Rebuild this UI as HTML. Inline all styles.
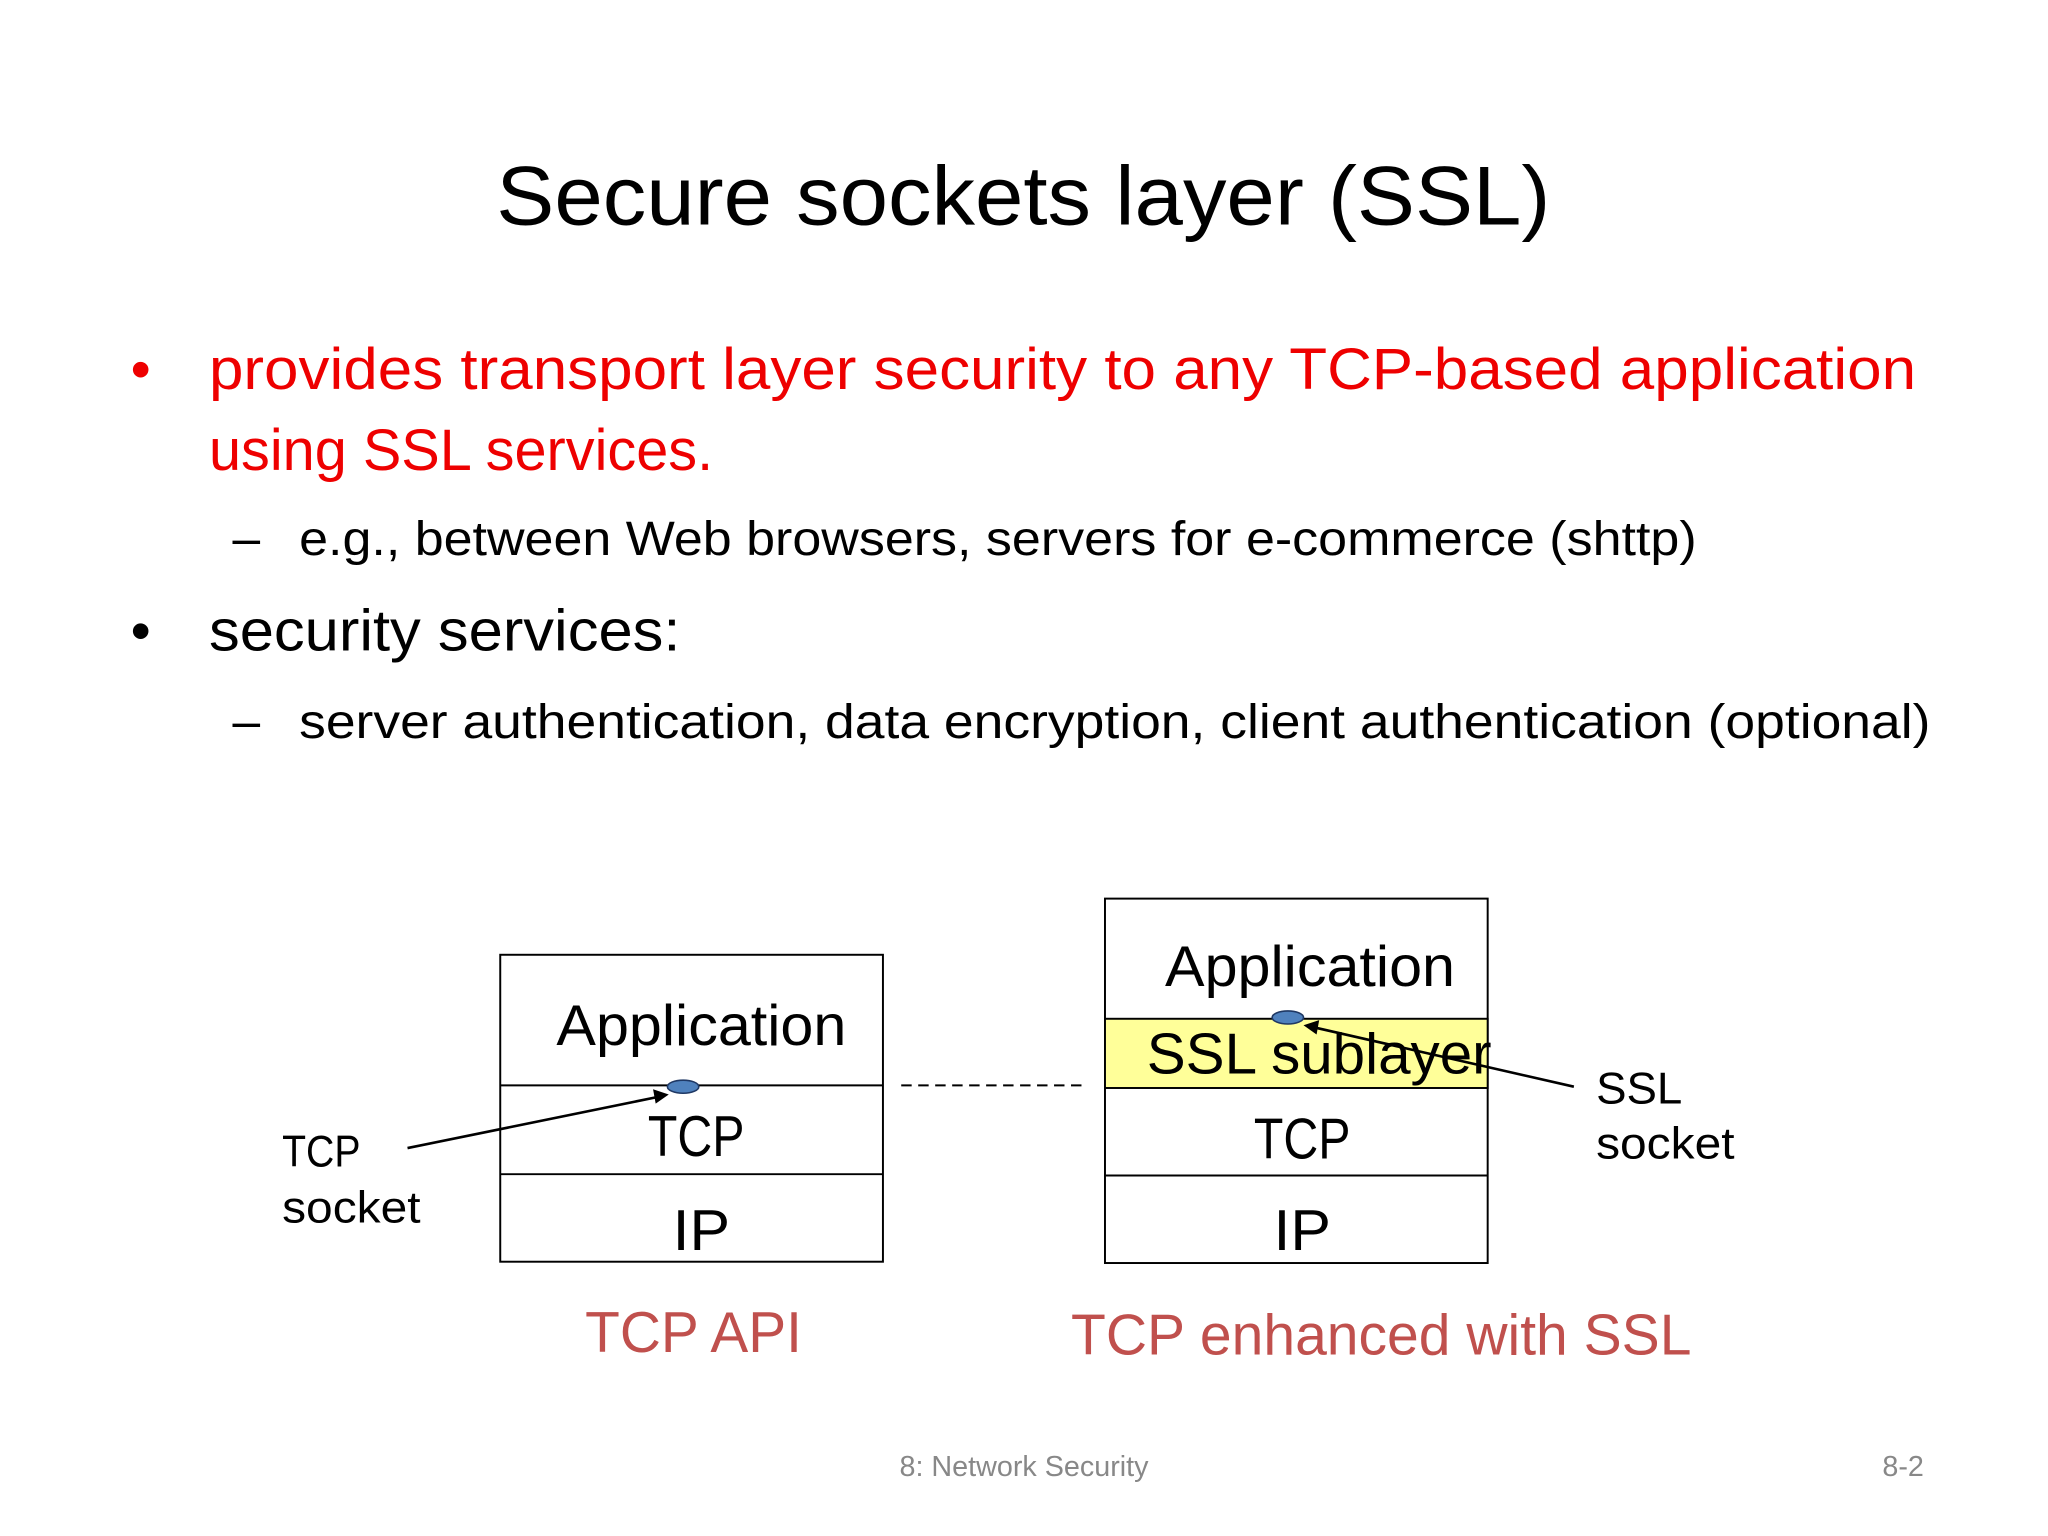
<!DOCTYPE html>
<html><head><meta charset="utf-8"><style>
html,body{margin:0;padding:0;background:#fff;width:2048px;height:1536px;overflow:hidden}
svg{display:block}
text{font-family:"Liberation Sans",sans-serif}
</style></head><body>
<svg width="2048" height="1536" viewBox="0 0 1568 1176" xmlns="http://www.w3.org/2000/svg">
<rect width="1568" height="1176" fill="#fff"/>
<text x="380" y="172" font-size="64" textLength="807" lengthAdjust="spacingAndGlyphs" fill="#000">Secure sockets layer (SSL)</text>
<text x="100" y="298" font-size="44" fill="#e00">•</text>
<text x="160" y="298" font-size="45" fill="#e00" textLength="1307" lengthAdjust="spacingAndGlyphs">provides transport layer security to any TCP-based application</text>
<text x="160" y="360" font-size="45" fill="#e00" textLength="386" lengthAdjust="spacingAndGlyphs">using SSL services.</text>
<text x="178" y="425" font-size="38" fill="#000">–</text>
<text x="229" y="425" font-size="37" fill="#000" textLength="1070" lengthAdjust="spacingAndGlyphs">e.g., between Web browsers, servers for e-commerce (shttp)</text>
<text x="100" y="498" font-size="44" fill="#000">•</text>
<text x="160" y="498" font-size="45" fill="#000" textLength="361" lengthAdjust="spacingAndGlyphs">security services:</text>
<text x="178" y="565" font-size="38" fill="#000">–</text>
<text x="229" y="565" font-size="37" fill="#000" textLength="1249" lengthAdjust="spacingAndGlyphs">server authentication, data encryption, client authentication (optional)</text>

<g stroke="#000" stroke-width="1.5" fill="none">
<rect x="383" y="731" width="293" height="235" fill="#fff"/>
<line x1="383" y1="831" x2="676" y2="831"/>
<line x1="383" y1="899" x2="676" y2="899"/>
<rect x="846" y="688" width="293" height="279" fill="#fff"/>
<rect x="846" y="780" width="293" height="53" fill="#ffff99"/>
<line x1="846" y1="900" x2="1139" y2="900"/>
<line x1="690" y1="831" x2="833" y2="831" stroke-dasharray="8,5"/>
</g>
<text x="537" y="800" font-size="44" text-anchor="middle" textLength="222" lengthAdjust="spacingAndGlyphs">Application</text>
<text x="533" y="885" font-size="44" text-anchor="middle" textLength="74" lengthAdjust="spacingAndGlyphs">TCP</text>
<text x="537" y="957" font-size="44" text-anchor="middle" textLength="44" lengthAdjust="spacingAndGlyphs">IP</text>
<text x="1003" y="755" font-size="44" text-anchor="middle" textLength="222" lengthAdjust="spacingAndGlyphs">Application</text>
<text x="878" y="822" font-size="44" textLength="264" lengthAdjust="spacingAndGlyphs">SSL sublayer</text>
<text x="997" y="887" font-size="44" text-anchor="middle" textLength="74" lengthAdjust="spacingAndGlyphs">TCP</text>
<text x="997" y="957" font-size="44" text-anchor="middle" textLength="44" lengthAdjust="spacingAndGlyphs">IP</text>
<text x="216" y="893" font-size="34" textLength="60" lengthAdjust="spacingAndGlyphs">TCP</text>
<text x="216" y="936" font-size="34" textLength="106" lengthAdjust="spacingAndGlyphs">socket</text>
<text x="1222" y="845" font-size="34" textLength="66" lengthAdjust="spacingAndGlyphs">SSL</text>
<text x="1222" y="887" font-size="34" textLength="106" lengthAdjust="spacingAndGlyphs">socket</text>
<ellipse cx="523" cy="832" rx="12" ry="5" fill="#4f81bd" stroke="#1f3864" stroke-width="1.2"/>
<ellipse cx="986" cy="779" rx="12" ry="5" fill="#4f81bd" stroke="#1f3864" stroke-width="1.2"/>
<g stroke="#000" stroke-width="2" fill="#000">
<line x1="312" y1="879" x2="503" y2="840"/>
<polygon points="512,838 500,834 502,845" stroke="none"/>
<line x1="1205" y1="832" x2="1008" y2="787"/>
<polygon points="998,785 1010,781 1008,792" stroke="none"/>
</g>
<text x="448" y="1035" font-size="44" fill="#c0504d" textLength="166" lengthAdjust="spacingAndGlyphs">TCP API</text>
<text x="820" y="1037" font-size="44" fill="#c0504d" textLength="475" lengthAdjust="spacingAndGlyphs">TCP enhanced with SSL</text>
<text x="784" y="1130" font-size="22" fill="#888" text-anchor="middle">8: Network Security</text>
<text x="1473" y="1130" font-size="22" fill="#888" text-anchor="end">8-2</text>
</svg>
</body></html>
